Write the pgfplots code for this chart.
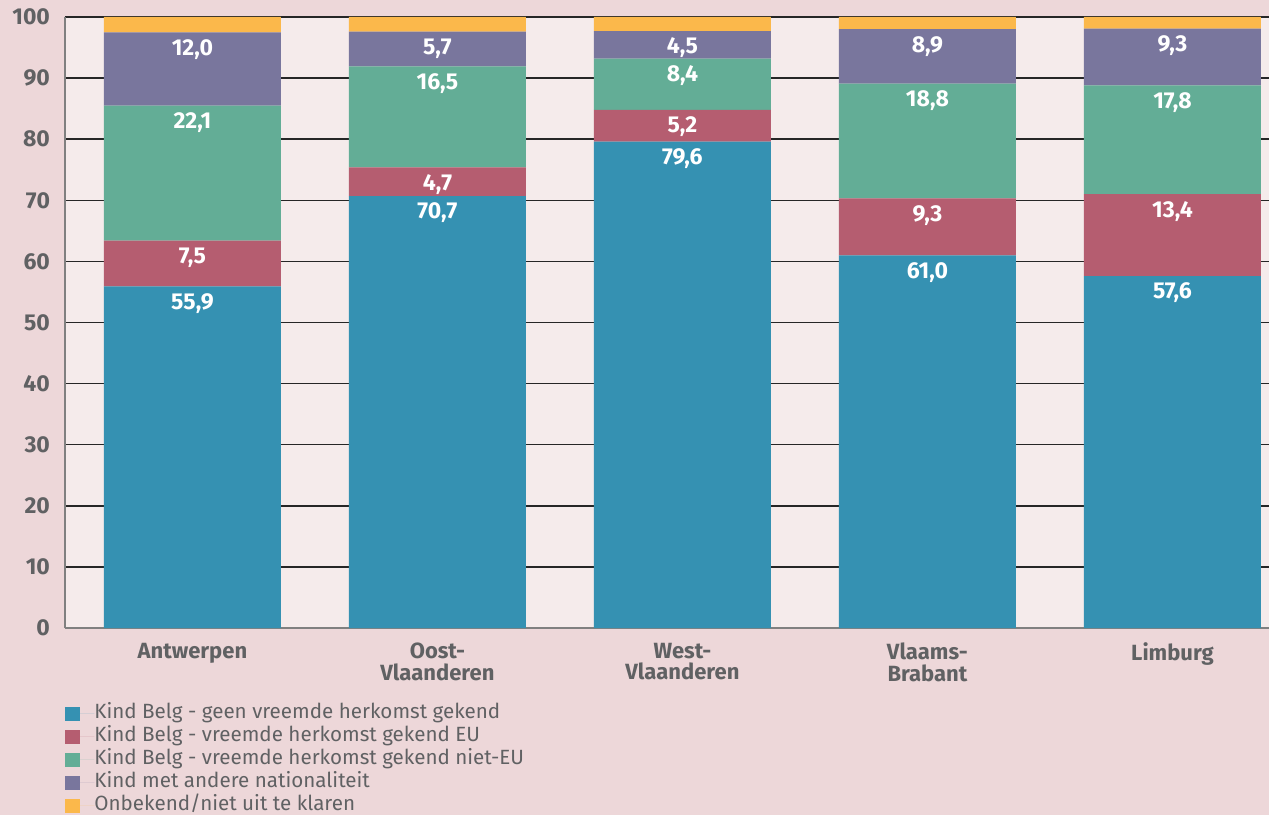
\documentclass[border=0pt]{standalone}
\usepackage{pgfplots}
\pgfplotsset{compat=1.18}
\usepackage{pgfplotstable}
\usepackage{fontspec}
\setmainfont{Fira Sans}
\definecolor{bg}{HTML}{EDD7D9}
\definecolor{plotbg}{HTML}{F5EBEB}
\definecolor{cblue}{HTML}{3591B2}
\definecolor{cred}{HTML}{B55D70}
\definecolor{cgreen}{HTML}{63AD96}
\definecolor{cpurple}{HTML}{79769D}
\definecolor{corange}{HTML}{FBB84B}
\definecolor{txt}{HTML}{606163}

\pgfplotstableread{
x a b c d e
0 55.9 7.5 22.1 12.0 2.5
1 70.7 4.7 16.5 5.7 2.4
2 79.6 5.2 8.4 4.5 2.3
3 61.0 9.3 18.8 8.9 2.0
4 57.6 13.4 17.8 9.3 1.9
}\data

\begin{document}
\begin{tikzpicture}
\fill[bg] (0,0) rectangle (634.5pt,407.5pt);
\useasboundingbox (0,0) rectangle (634.5pt,407.5pt);
\begin{axis}[
  at={(32.5pt,93.5pt)}, anchor=south west,
  scale only axis, width=602pt, height=305.5pt,
  ybar stacked, bar width=88.5pt,
  xmin=-0.52, xmax=4.394, ymin=0, ymax=100,
  ytick={0,10,...,100}, xtick=data,
  xticklabels={Antwerpen,{Oost-\\Vlaanderen},{West-\\Vlaanderen},{Vlaams-\\Brabant},Limburg},
  /pgf/number format/assume math mode=true,
  major tick length=0pt,
  axis x line*=bottom, axis y line*=left,
  axis line style={black!50, line width=1pt},
  axis background/.style={fill=plotbg},
  ymajorgrids, grid style={black!85, line width=0.7pt},
  xticklabel style={align=center, font=\fontsize{11}{10.8}\selectfont\bfseries, text=txt, yshift=-4pt},
  yticklabel style={font=\fontsize{11.5}{12}\selectfont\bfseries, text=txt, xshift=-4pt},
  lab/.style={visualization depends on={rawy \as \segval},
    nodes near coords={\pgfmathprintnumber[fixed,fixed zerofill,precision=1,use comma]{\segval}},
    every node near coord/.style={font=\fontsize{11.5}{12}\selectfont\bfseries, text=white, anchor=center, yshift=\segval*1.5275pt-8.5pt}},
  legend style={at={(rel axis cs:0,-0.121)}, anchor=north west, draw=none, fill=none, inner sep=0pt,
    font=\fontsize{10.3}{12}\selectfont\color{txt},
    nodes={inner sep=0pt, text height=8pt, text depth=3.5pt},
    /tikz/every even column/.append style={column sep=0pt}},
  legend cell align=left,
  legend image code/.code={\fill[#1] (0pt,-3.6pt) rectangle (7.3pt,3.6pt); \path (0pt,0pt) -- (14.5pt,0pt);},
]
\addplot[fill=cblue, draw=none, lab] table[x=x,y=a]{\data};
\addplot[fill=cred, draw=none, lab] table[x=x,y=b]{\data};
\addplot[fill=cgreen, draw=none, lab] table[x=x,y=c]{\data};
\addplot[fill=cpurple, draw=none, lab] table[x=x,y=d]{\data};
\addplot[fill=corange, draw=none] table[x=x,y=e]{\data};
\legend{Kind Belg - geen vreemde herkomst gekend, Kind Belg - vreemde herkomst gekend EU, Kind Belg - vreemde herkomst gekend niet-EU, Kind met andere nationaliteit, Onbekend/niet uit te klaren}
\end{axis}
\end{tikzpicture}
\end{document}
